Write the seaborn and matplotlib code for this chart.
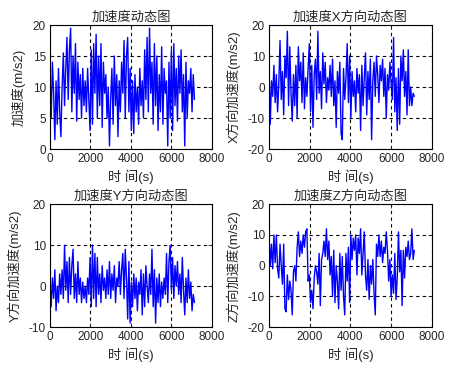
import matplotlib

matplotlib.use("Agg")
import matplotlib.pyplot as plt  # noqa: E402
import numpy as np  # noqa: E402
import pandas as pd  # noqa: E402
import seaborn as sns  # noqa: E402

# Sample times (s), one reading every 60 s
STEP = 60
N_POINTS = 120

# Total acceleration magnitude (m/s2)
acc_total = [
    12, 5, 14, 9, 1.5, 11, 4, 13, 6, 2,
    10, 15.5, 7, 13, 18, 8, 16, 19.5, 6, 15,
    9, 17, 4.5, 14, 8, 12, 5, 13, 7, 11,
    6, 13, 8, 3, 16, 4, 17, 9, 18.5, 5,
    15, 7, 17, 3.5, 14, 9, 12, 5, 10, 0.5,
    8, 13, 4, 15, 7, 12, 2, 11, 6, 14,
    9, 17.5, 5, 15, 18, 6, 13, 3, 11, 2.5,
    12, 6, 10, 4, 13, 7, 11, 5, 16, 8,
    18, 6, 19.5, 9, 14, 4, 17, 7, 15, 3,
    12, 6, 16.5, 4, 13, 9, 11, 0.5, 14, 5,
    16, 3, 17, 7, 13, 4.5, 15, 9, 16, 6,
    12, 0.5, 14, 5, 11, 9, 13, 6, 12, 8,
]

# X direction (m/s2)
acc_x = [
    6, -12, 2, -3, 7, -5, 4, -8, 1, 15,
    -4, 5, -9, 10, 3, 18, -6, 13, -2, -11,
    4, -6, 7, -10, 13, 2, 8, -5, 11, -7,
    3, -3, 6, 14, -8, 7, -13, 4, 9, -4,
    18, -2, 5, -7, 11, 1, 8, -5, 3, -1,
    7, -3, 9, -6, 2, -13, 5, -2, 8, -15,
    -17, 6, -4, 3, 14, -5, 10, -10, 5, -3,
    2, -8, 6, -2, 4, -14, 7, -6, 3, 11,
    -9, 5, -4, 9, -17, 2, 8, -3, 10, 4,
    -5, 7, 2, 9, -3, 6, -10, 4, -1, 8,
    1, -4, 16, -8, 3, -14, 6, -12, 10, 2,
    12, -3, 5, -9, 12, -6, 0, -6, -2, -3,
]

# Y direction (m/s2)
acc_y = [
    1, -5, 2, -3, 4, -6, 0, -4, 3, -2,
    4, -3, 10, -1, 6, -4, 7, -2, 5, 9,
    -3, 3, -4, 6, -2, 2, -4, 1, -3, 0,
    -4, 2, -2, 7, -5, 10, -3, 8, -5, 7,
    -2, 3, -4, 5, -1, 2, -3, 4, -2, 6,
    -3, 3, -1, 5, -4, 2, 0, 6, -2, 4,
    8, -3, 9, 2, -8, 6, -9, 1, -5, 3,
    -3, 2, -6, 1, -2, 4, -7, 3, -5, 5,
    0, -4, 3, -2, 9, -5, 4, -9, 2, -4,
    3, -5, 1, -3, 2, -2, 8, -4, 6, 10,
    -1, 7, -3, 5, 0, 6, -2, 3, -4, 7,
    -1, -7, 2, -4, 4, -3, 1, -6, -2, -4,
]

# Z direction (m/s2)
acc_z = [
    10, 0, 7, -1, 10, 1, 10, -1, -4, 7,
    0, -6, 7, -14, -15, -3, -11, -5, -8, -16,
    -2, 0, -5, 6, 11, 3, 8, 4, 10, 6,
    11, 12, -5, -3, -12, -8, -14, -4, 0, -2,
    -6, 4, -13, 2, 4, 8, 3, 12, 2, 8,
    -3, 3, -10, 5, -12, 0, -5, -14, 4, -8,
    3, -10, -16, 4, -5, 6, -12, 10, 2, 9,
    5, 10, -3, 9, 4, 12, -3, 4, 11, -3,
    -8, 2, -11, 0, -6, 2, -9, -16, 7, 3,
    10, 3, 8, 1, 6, 4, 11, 5, -5, 2,
    -10, -3, -9, 4, -11, -4, 11, -2, 5, -13,
    5, -4, 6, 3, 8, 2, 4, 12, 2, 5,
]

titles = ["加速度动态图", "加速度X方向动态图", "加速度Y方向动态图", "加速度Z方向动态图"]
ylabels = ["加速度(m/s2)", "X方向加速度(m/s2)", "Y方向加速度(m/s2)", "Z方向加速度(m/s2)"]
ylims = [(0, 20), (-20, 20), (-10, 20), (-20, 20)]
yticks = [[0, 5, 10, 15, 20], [-20, -10, 0, 10, 20], [-10, 0, 10, 20], [-20, -10, 0, 10, 20]]
xticks = [0, 2000, 4000, 6000, 8000]

time_s = np.arange(N_POINTS) * STEP
series = [acc_total, acc_x, acc_y, acc_z]

sns.set_style("ticks")
plt.rcParams["font.family"] = ["Liberation Sans", "Noto Sans CJK SC"]
plt.rcParams["font.size"] = 8
plt.rcParams["axes.unicode_minus"] = False

fig = plt.figure(figsize=(4.56, 3.68), dpi=100)
positions = [
    [0.1096, 0.595, 0.355, 0.337],
    [0.590, 0.595, 0.357, 0.337],
    [0.1096, 0.111, 0.355, 0.334],
    [0.590, 0.111, 0.357, 0.334],
]
cjk = 9.5

for pos, vals, title, ylab, ylim, yt in zip(positions, series, titles, ylabels, ylims, yticks):
    ax = fig.add_axes(pos)
    df = pd.DataFrame({"t": time_s, "a": vals})
    sns.lineplot(data=df, x="t", y="a", color="#0000ff", linewidth=1.0, ax=ax)
    ax.set_xlim(0, 8000)
    ax.set_ylim(*ylim)
    ax.set_xticks(xticks)
    ax.set_yticks(yt)
    ax.set_title(title, fontsize=cjk, pad=3)
    ax.set_xlabel("时 间(s)", fontsize=cjk, labelpad=3)
    ax.set_ylabel(ylab, fontsize=cjk, labelpad=5)
    ax.grid(True, color="black", linestyle=(0, (3, 3)), linewidth=0.8)
    ax.tick_params(direction="in", length=3, width=0.6, top=True, right=True,
                   labelsize=8.5, pad=3)
    for sp in ax.spines.values():
        sp.set_linewidth(0.8)
        sp.set_color("black")

fig.savefig("out.png", dpi=100)
